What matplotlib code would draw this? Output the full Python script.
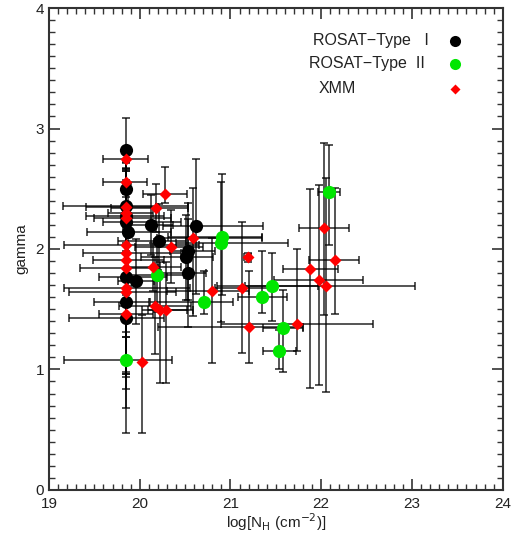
import matplotlib
matplotlib.use('Agg')
import matplotlib.pyplot as plt
import numpy as np

plt.rcParams['font.family'] = ['Liberation Sans', 'DejaVu Sans']

# ROSAT Type I (black)
t1_nh = [19.85, 19.85, 19.85, 19.85, 19.85, 19.87, 20.12, 20.62, 20.21, 20.53, 20.51, 20.53, 19.85, 19.96, 19.85, 19.85]
t1_g = [2.82, 2.50, 2.36, 2.27, 2.22, 2.14, 2.20, 2.19, 2.07, 1.98, 1.93, 1.80, 1.77, 1.73, 1.56, 1.43]
t1_nh_lo = [0.0, 0.0, 0.70, 0.44, 0.26, 0.45, 0.30, 0.36, 0.45, 0.20, 0.50, 0.30, 0.30, 0.20, 0.35, 0.63]
t1_nh_hi = [0.0, 0.0, 0.68, 0.42, 0.60, 0.48, 0.25, 0.74, 0.30, 0.30, 0.30, 0.20, 0.45, 0.20, 0.25, 0.42]
t1_g_lo = [0.25, 0.30, 0.40, 0.50, 0.60, 0.45, 0.25, 0.56, 0.30, 0.40, 0.35, 0.45, 0.50, 0.35, 0.60, 0.96]
t1_g_hi = [0.27, 0.30, 0.35, 0.40, 0.50, 0.40, 0.25, 0.56, 0.30, 0.40, 0.35, 0.45, 0.50, 0.35, 0.60, 0.55]

# ROSAT Type II (green)
t2_nh = [19.85, 20.19, 20.71, 20.91, 20.90, 21.35, 21.46, 21.54, 21.58, 22.08]
t2_g = [1.08, 1.78, 1.56, 2.10, 2.05, 1.60, 1.69, 1.15, 1.34, 2.47]
t2_nh_lo = [0.68, 0.35, 0.60, 0.60, 0.50, 0.27, 0.30, 0.18, 0.22, 0.12]
t2_nh_hi = [0.51, 0.30, 0.32, 0.44, 0.73, 0.27, 0.50, 0.18, 0.22, 0.13]
t2_g_lo = [0.40, 0.30, 0.10, 0.48, 0.66, 0.13, 0.29, 0.15, 0.36, 0.44]
t2_g_hi = [0.35, 0.30, 0.26, 0.52, 0.51, 0.38, 0.28, 0.18, 0.32, 0.39]

# XMM (red)
xmm_nh = [19.85, 19.85, 19.85, 19.85, 19.85, 19.85, 19.85, 19.85, 19.85, 19.85, 19.85, 19.85,
          20.18, 20.28, 20.59, 20.35, 20.15, 20.17, 20.22, 20.29, 20.80, 21.13, 21.19, 21.20,
          21.73, 21.88, 21.97, 22.03, 22.05, 22.15, 20.03]
xmm_g = [2.75, 2.56, 2.35, 2.30, 2.26, 2.03, 1.97, 1.91, 1.84, 1.68, 1.64, 1.46,
         2.34, 2.46, 2.09, 2.02, 1.85, 1.53, 1.49, 1.49, 1.65, 1.68, 1.93, 1.35,
         1.38, 1.83, 1.74, 2.17, 1.69, 1.91, 1.06]
xmm_nh_lo = [0.26, 0.26, 0.44, 0.20, 0.35, 0.68, 0.48, 0.37, 0.51, 0.68, 0.63, 0.30,
             0.50, 0.24, 0.40, 0.40, 0.30, 0.40, 0.20, 0.20, 0.50, 0.30, 0.04, 1.00,
             0.84, 0.30, 0.49, 0.28, 1.20, 0.29, 0.0]
xmm_nh_hi = [0.24, 0.23, 0.35, 0.30, 0.50, 0.80, 0.60, 0.42, 0.35, 0.70, 0.55, 0.30,
             0.35, 0.24, 0.76, 0.35, 0.30, 0.40, 0.30, 0.30, 0.40, 0.30, 0.04, 0.60,
             0.84, 0.30, 0.49, 0.28, 0.98, 0.27, 0.0]
xmm_g_lo = [0.10, 0.10, 0.30, 0.40, 0.50, 0.50, 0.70, 0.60, 0.90, 0.70, 0.80, 0.50,
            0.20, 0.08, 0.65, 0.30, 0.20, 0.40, 0.60, 0.60, 0.60, 0.54, 0.04, 0.30,
            0.23, 0.98, 0.87, 0.72, 0.88, 0.45, 0.59]
xmm_g_hi = [0.10, 0.10, 0.30, 0.45, 0.40, 0.40, 0.50, 0.40, 0.50, 0.60, 0.50, 0.30,
            0.20, 0.22, 0.42, 0.30, 0.20, 0.40, 0.40, 0.40, 0.44, 0.54, 0.04, 0.47,
            0.62, 0.67, 0.79, 0.71, 0.90, 0.60, 0.39]

fig = plt.figure(figsize=(5.21, 5.36), dpi=100)
ax = fig.add_axes([0.094, 0.086, 0.871, 0.899])

ebar = dict(fmt='none', ecolor='black', elinewidth=1.1, capsize=3, capthick=1.1, alpha=0.85)
ax.errorbar(t1_nh, t1_g, xerr=[t1_nh_lo, t1_nh_hi], yerr=[t1_g_lo, t1_g_hi], **ebar)
ax.errorbar(t2_nh, t2_g, xerr=[t2_nh_lo, t2_nh_hi], yerr=[t2_g_lo, t2_g_hi], **ebar)
ax.errorbar(xmm_nh, xmm_g, xerr=[xmm_nh_lo, xmm_nh_hi], yerr=[xmm_g_lo, xmm_g_hi], **ebar)

ax.plot(t1_nh, t1_g, 'o', color='black', ms=9.5, mec='none', zorder=4)
ax.plot(t2_nh, t2_g, 'o', color='#00e600', ms=9.5, mec='none', zorder=4)
ax.plot(xmm_nh, xmm_g, 'D', color='#ff0000', ms=6, mec='none', zorder=5)

ax.set_xlim(19, 24)
ax.set_ylim(0, 4)
ax.set_xticks(np.arange(19, 24.5, 1))
ax.set_yticks(np.arange(0, 4.5, 1))
ax.set_xticks(np.arange(19, 24.01, 0.1), minor=True)
ax.set_yticks(np.arange(0, 4.01, 0.1), minor=True)
ax.tick_params(which='both', direction='in', top=True, right=True, colors='#333333',
               labelcolor='#222222', labelsize=11)
ax.tick_params(which='major', length=8, width=1.2)
ax.tick_params(which='minor', length=4, width=1.0)
ax.tick_params(axis='x', pad=5)
for s in ax.spines.values():
    s.set_linewidth(1.5)
    s.set_color('#333333')

ax.set_xlabel(r'log[N$_{\rm H}$ (cm$^{-2}$)]', fontsize=11, color='#222222', labelpad=0)
ax.set_ylabel('gamma', fontsize=11, color='#222222', labelpad=5)

# legend
leg_txt = ['ROSAT\u2212Type   I', 'ROSAT\u2212Type  II', 'XMM']
leg_x = [0.581, 0.573, 0.595]
leg_y = [0.932, 0.884, 0.832]
for tx, lx, ly in zip(leg_txt, leg_x, leg_y):
    ax.text(lx, ly, tx, transform=ax.transAxes, fontsize=11.5, color='#222222', va='center')
ax.plot([0.895], [leg_y[0]], 'o', color='black', ms=8, mec='none', transform=ax.transAxes)
ax.plot([0.895], [leg_y[1]], 'o', color='#00e600', ms=8, mec='none', transform=ax.transAxes)
ax.plot([0.895], [leg_y[2]], 'D', color='#ff0000', ms=5, mec='none', transform=ax.transAxes)

fig.savefig('out.png', dpi=100)
